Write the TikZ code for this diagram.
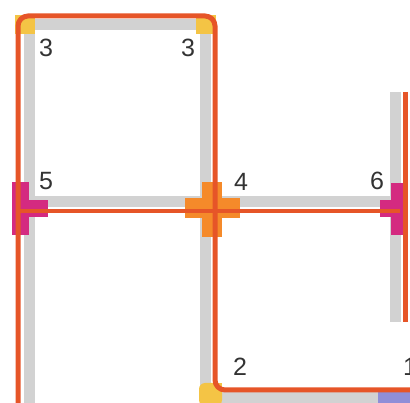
\documentclass[tikz,border=0pt]{standalone}
\usepackage{fontspec}
\setmainfont{Liberation Sans}
\definecolor{trackgray}{HTML}{D2D2D2}
\definecolor{routeorange}{HTML}{E65528}
\definecolor{crossorange}{HTML}{F58A2A}
\definecolor{markyellow}{HTML}{F4C445}
\definecolor{markmagenta}{HTML}{D42A80}
\definecolor{markpurple}{HTML}{8F8ED8}
\definecolor{labelgray}{HTML}{333333}
\tikzset{
  track/.style={draw=trackgray, line width=11pt},
  route/.style={draw=routeorange, line width=5pt, rounded corners=10pt},
  marker/.style={draw=none},
  lbl/.style={text=labelgray, font=\fontsize{25}{25}\selectfont, inner sep=0pt}
}
\begin{document}
\begin{tikzpicture}[x=1pt,y=-1pt]
\useasboundingbox (0,0) rectangle (410,403);
\clip (0,0) rectangle (410,403);
% grey tracks
\draw[track] (29,20) -- (29,403);
\draw[track] (24,25) -- (210,25);
\draw[track] (205,20) -- (205,398) -- (410,398);
\draw[track] (29,202) -- (396,202);
\draw[track] (395,92) -- (395,322);
% markers
\fill[markyellow] (15,15) rectangle (35,34);
\fill[markyellow] (196,15) rectangle (216,34);
\fill[markyellow, rounded corners=6pt] (199,383) rectangle (222,406);
\fill[markyellow] (210,383) rectangle (222,395);
\fill[markpurple] (378,392) rectangle (410,403);
\fill[markmagenta] (12,182) rectangle (29,235);
\fill[markmagenta] (12,200) rectangle (48,217);
\fill[crossorange] (202,182) rectangle (222,237);
\fill[crossorange] (185,198) rectangle (240,218);
\fill[markmagenta] (391,183) rectangle (406,235);
\fill[markmagenta] (380,200) rectangle (406,217);
% orange route
\draw[route] (18,410) -- (18,16) -- (215,16) -- (215,390) -- (415,390);
\draw[routeorange, line width=4.5pt] (18,211) -- (400,211);
\draw[routeorange, line width=5pt] (405,92) -- (405,322);
% labels
\node[lbl] (l3a) at (46,48) {3};
\node[lbl] (l3b) at (188,48) {3};
\node[lbl] (l5) at (46,181) {5};
\node[lbl] (l4) at (241,182) {4};
\node[lbl] (l6) at (377,181) {6};
\node[lbl] (l2) at (240,367) {2};
\node[lbl] (l1) at (410,367) {1};
\end{tikzpicture}
\end{document}
